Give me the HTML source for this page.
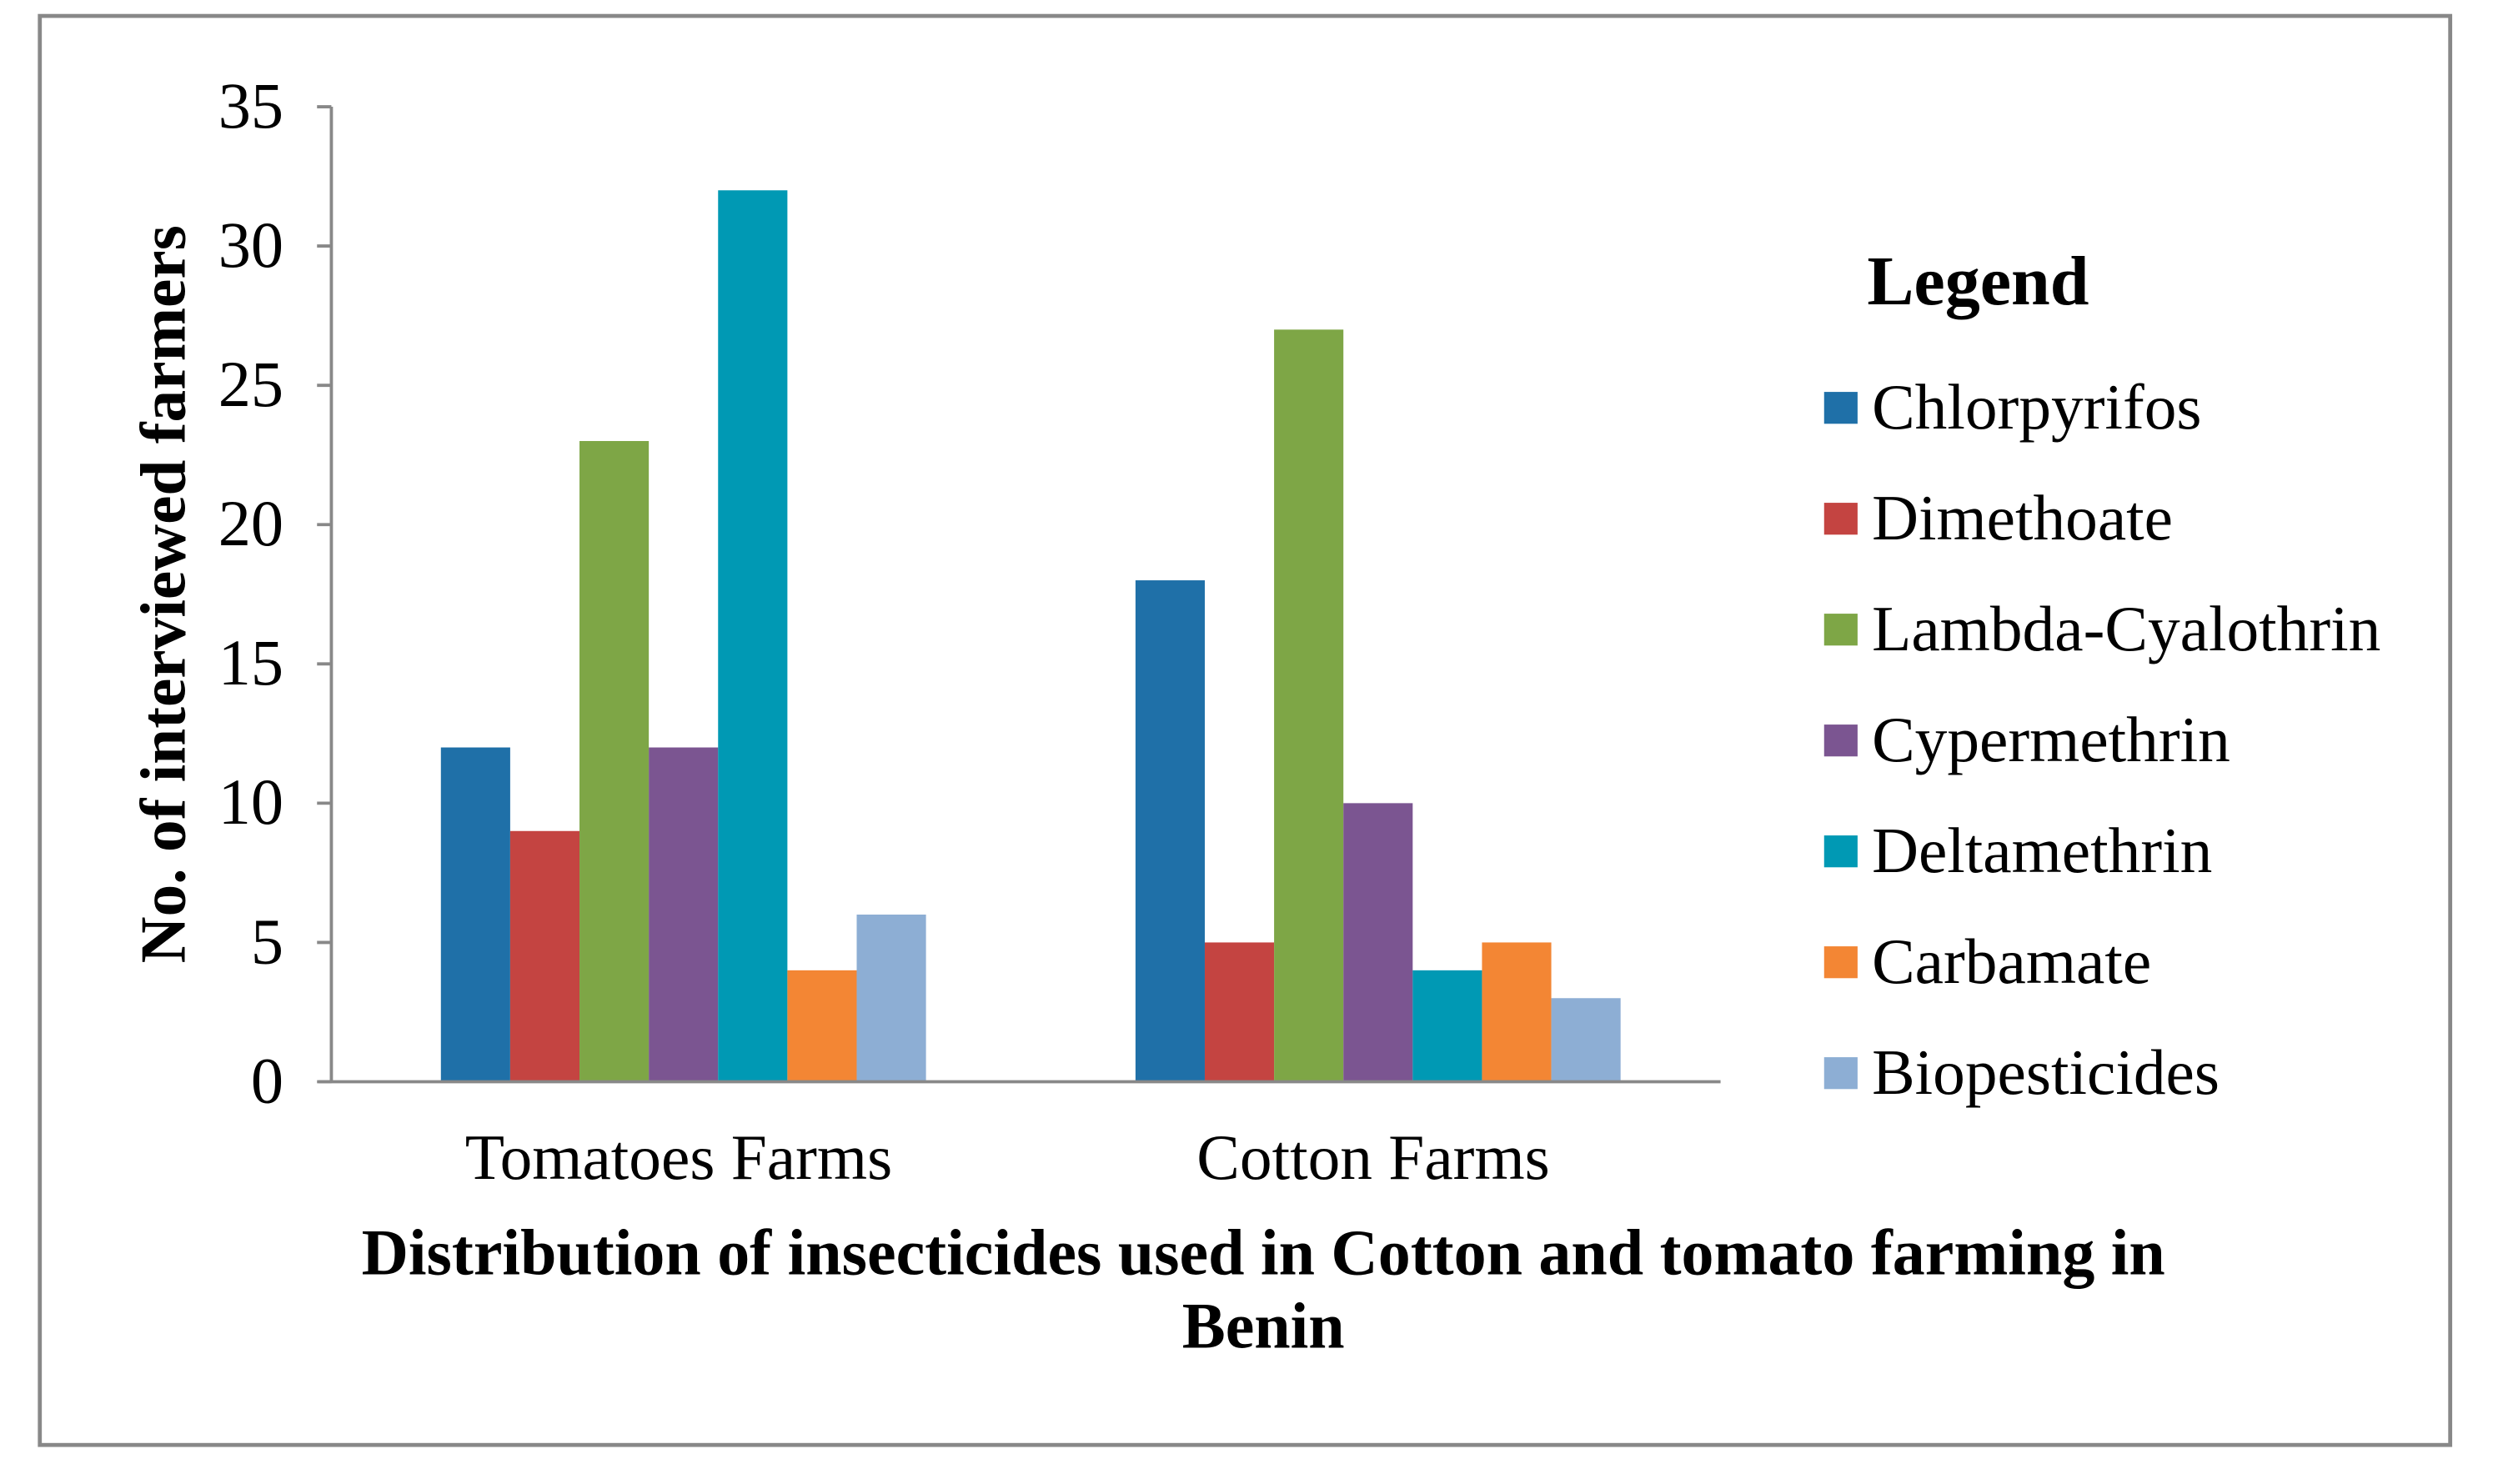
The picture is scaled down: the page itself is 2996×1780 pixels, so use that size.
<!DOCTYPE html>
<html><head><meta charset="utf-8"><style>
html,body{margin:0;padding:0;background:#fff;}
svg{display:block;}
text{font-family:"Liberation Serif",serif;fill:#000;}
</style></head><body>
<svg id="chart" width="2996" height="1780" viewBox="0 0 1568 931.5" preserveAspectRatio="none" xmlns="http://www.w3.org/2000/svg">
<rect x="25" y="10" width="1513" height="897" fill="#fff" stroke="#888" stroke-width="2.5"/>
<g id="bars"></g>
<g id="axes"></g>
<text transform="translate(116,373) rotate(-90)" text-anchor="middle" font-size="40.5" font-weight="bold">No. of interviewed farmers</text>
<text x="793" y="800" text-anchor="middle" font-size="40.8" font-weight="bold">Distribution of insecticides used in Cotton and tomato farming in</text>
<text x="793" y="846" text-anchor="middle" font-size="40.8" font-weight="bold">Benin</text>
<text x="1172" y="191" font-size="44" font-weight="bold">Legend</text>
<g id="legend"></g>
</svg>
<script>
const categories = ["Tomatoes Farms", "Cotton Farms"];
const seriesNames = ["Chlorpyrifos","Dimethoate","Lambda-Cyalothrin","Cypermethrin","Deltamethrin","Carbamate","Biopesticides"];
const seriesColors = ["#1F70A8","#C44441","#7EA646","#7B5591","#0099B4","#F38634","#8DAED4"];
const tomatoValues = [12, 9, 23, 12, 32, 4, 6];
const cottonValues = [18, 5, 27, 10, 4, 5, 3];
const yTicks = [0, 5, 10, 15, 20, 25, 30, 35];

const NS = "http://www.w3.org/2000/svg";
const x0 = 208, x1 = 1080, yTop = 67, yBot = 679, yMax = 35;
const y = v => yBot - (v / yMax) * (yBot - yTop);
const groupW = (x1 - x0) / categories.length;
const barW = 43.5;
const groupStart = i => x0 + i * groupW + (groupW - barW * seriesNames.length) / 2 + 3;
const values = [tomatoValues, cottonValues];

function mk(tag, attrs, parent){const e=document.createElementNS(NS,tag);for(const k in attrs)e.setAttribute(k,attrs[k]);parent.appendChild(e);return e;}
const bars = document.getElementById('bars'), axes = document.getElementById('axes'), legend = document.getElementById('legend');

categories.forEach((c, ci) => {
  values[ci].forEach((v, si) => {
    const r = mk('rect', {x: groupStart(ci) + si*barW, y: y(v), width: barW, height: yBot - y(v), fill: seriesColors[si]}, bars);
    
    
  });
  const t = mk('text', {x: x0 + (ci+0.5)*groupW, y: 740, 'text-anchor': 'middle', 'font-size': 40.5}, axes);
  t.textContent = c;
  
  
});

const yl = mk('line', {x1: x0, y1: yTop, x2: x0, y2: yBot, stroke: '#888', 'stroke-width': 2}, axes);


const xl = mk('line', {x1: 200, y1: yBot, x2: x1, y2: yBot, stroke: '#888', 'stroke-width': 2}, axes);


yTicks.forEach(t => {
  const l = mk('line', {x1: 199, y1: y(t), x2: x0, y2: y(t), stroke: '#888', 'stroke-width': 2}, axes);
  
  
  const tx = mk('text', {x: 178, y: y(t) + 13, 'text-anchor': 'end', 'font-size': 41}, axes);
  tx.textContent = t;
  
  
});

seriesNames.forEach((n, i) => {
  const cy = 256 + i * 69.6;
  const s = mk('rect', {x: 1145, y: cy - 10, width: 21, height: 20, fill: seriesColors[i]}, legend);
  
  
  const t = mk('text', {x: 1175, y: cy + 13, 'font-size': 40.5}, legend);
  t.textContent = n;
  
  
});
</script>
</body></html>
